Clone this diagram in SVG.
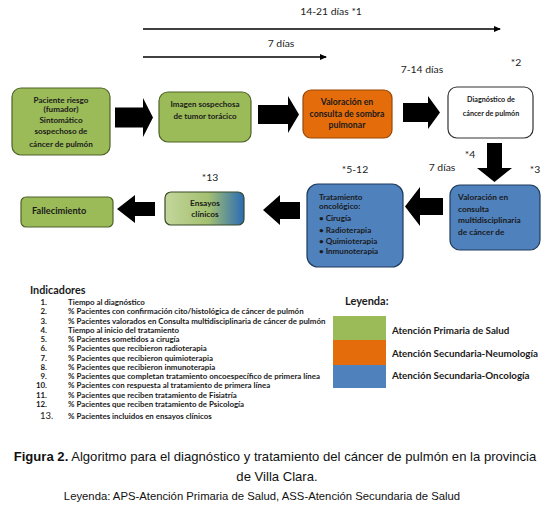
<svg xmlns="http://www.w3.org/2000/svg" width="554" height="511" viewBox="0 0 554 511">
<defs>
<style>
.bx{font-family:Lato,"Open Sans","Liberation Sans",sans-serif;font-weight:700;fill:#1a1a1a}
.lbl{font-family:Lato,"Open Sans","Liberation Sans",sans-serif;font-size:10.4px;fill:#222}
.ind{font-family:Lato,"Open Sans","Liberation Sans",sans-serif;font-weight:700;font-size:7.9px;fill:#1a1a1a}
.cap{font-family:"Liberation Sans",Arial,sans-serif;fill:#111}
.green{fill:#9BBB59;stroke:#4F6228;stroke-width:1.2}
.orange{fill:#E46C0A;stroke:#984807;stroke-width:1.2}
.blue{fill:#4F81BD;stroke:#1F3B5E;stroke-width:1.2}
.white{fill:#fff;stroke:#333;stroke-width:1.2}
.blk{fill:#000}
.thin{stroke:#000;stroke-width:1.6;fill:none}
</style>
<linearGradient id="gEns" x1="0" y1="0" x2="1" y2="0">
<stop offset="0" stop-color="#C3D69B"/>
<stop offset="0.55" stop-color="#A3C070"/>
<stop offset="1" stop-color="#2A6BB5"/>
</linearGradient>
<marker id="ah" markerWidth="8" markerHeight="8" refX="6" refY="3" orient="auto" markerUnits="userSpaceOnUse">
<path d="M0,0 L7,3 L0,6 Z" fill="#000"/>
</marker>
</defs>
<rect width="554" height="511" fill="#fff"/>

<g id="connectors">
<line class="thin" x1="143" y1="29" x2="500" y2="29" marker-end="url(#ah)"/>
<line class="thin" x1="143" y1="57" x2="326" y2="57" marker-end="url(#ah)"/>
<polygon class="blk" points="115,107.5 143,107.5 143,98 153,117.5 143,137 143,127.5 115,127.5"/>
<polygon class="blk" points="258,105 288,105 288,96 299,114.5 288,133 288,124 258,124"/>
<polygon class="blk" points="403,103 428,103 428,96 440,112.5 428,129 428,122 403,122"/>
<polygon class="blk" points="487,143 502,143 502,168 512,168 494.5,182 477,168 487,168"/>
<polygon class="blk" points="443,198 420,198 420,187 405,206.5 420,226 420,215 443,215"/>
<polygon class="blk" points="300,202 280,202 280,195 263,210 280,225 280,219 300,219"/>
<polygon class="blk" points="155,202 135,202 135,195 117,209 135,223 135,216 155,216"/>
<text class="lbl" x="331" y="15" text-anchor="middle">14-21 días *1</text>
<text class="lbl" x="281" y="47" text-anchor="middle">7 días</text>
<text class="lbl" x="422" y="73" text-anchor="middle">7-14 días</text>
<text class="lbl" x="516" y="66" text-anchor="middle">*2</text>
<text class="lbl" x="470" y="158" text-anchor="middle">*4</text>
<text class="lbl" x="442" y="171" text-anchor="middle">7 días</text>
<text class="lbl" x="535" y="173" text-anchor="middle">*3</text>
<text class="lbl" x="355" y="173" text-anchor="middle">*5-12</text>
<text class="lbl" x="210" y="181" text-anchor="middle">*13</text>
</g>

<g id="n1">
<rect class="green" x="12" y="88" width="98" height="67" rx="9"/>
<text class="bx" font-size="8.1" text-anchor="middle"><tspan x="61" y="103">Paciente riesgo</tspan><tspan x="61" y="112">(fumador)</tspan><tspan x="61" y="123">Sintomático</tspan><tspan x="61" y="134">sospechoso de</tspan><tspan x="61" y="147">cáncer de pulmón</tspan></text>
</g>

<g id="n2">
<rect class="green" x="159" y="92" width="92" height="50" rx="9"/>
<text class="bx" font-size="8" text-anchor="middle"><tspan x="205" y="107">Imagen sospechosa</tspan><tspan x="205" y="119">de tumor torácico</tspan></text>
</g>

<g id="n3">
<rect class="orange" x="303" y="90" width="89" height="48" rx="8"/>
<text class="bx" font-size="8.7" text-anchor="middle"><tspan x="347" y="105">Valoración en</tspan><tspan x="347" y="116.5">consulta de sombra</tspan><tspan x="347" y="128">pulmonar</tspan></text>
</g>

<g id="n4">
<rect class="white" x="448" y="87" width="85" height="51" rx="9"/>
<text class="bx" font-size="7.2" text-anchor="middle"><tspan x="491" y="102">Diagnóstico de</tspan><tspan x="491" y="116">cáncer de pulmón</tspan></text>
</g>

<g id="n5">
<rect class="blue" x="450" y="185" width="90" height="65" rx="10"/>
<text class="bx" font-size="8.3"><tspan x="458" y="200">Valoración en</tspan><tspan x="458" y="211.5">consulta</tspan><tspan x="458" y="223">multidisciplinaria</tspan><tspan x="458" y="235">de cáncer de</tspan></text>
</g>

<g id="n6">
<rect class="blue" x="307" y="184" width="96" height="83" rx="11"/>
<text class="bx" font-size="8.1"><tspan x="319" y="200">Tratamiento</tspan><tspan x="319" y="209">oncológico:</tspan><tspan x="319" y="221">• Cirugía</tspan><tspan x="319" y="233">• Radioterapia</tspan><tspan x="319" y="244">• Quimioterapia</tspan><tspan x="319" y="254">• Inmunoterapia</tspan></text>
</g>

<g id="n7">
<rect x="165" y="192" width="79" height="33" rx="6" fill="url(#gEns)" stroke="#3a4a2a" stroke-width="1.2"/>
<text class="bx" font-size="8.3" text-anchor="middle"><tspan x="205" y="206">Ensayos</tspan><tspan x="205" y="217">clínicos</tspan></text>
</g>

<g id="n8">
<rect class="green" x="21" y="197" width="92" height="30" rx="5"/>
<text class="bx" font-size="9.2" x="32" y="214">Fallecimiento</text>
</g>

<g id="indicadores">
<text class="bx" font-size="10.8" x="30" y="294">Indicadores</text>
<g class="ind">
<text x="47" y="305" text-anchor="end">1.</text><text x="68" y="305">Tiempo al diagnóstico</text>
<text x="47" y="314" text-anchor="end">2.</text><text x="68" y="314">% Pacientes con confirmación cito/histológica de cáncer de pulmón</text>
<text x="47" y="323.5" text-anchor="end">3.</text><text x="68" y="323.5">% Pacientes valorados en Consulta multidisciplinaria de cáncer de pulmón</text>
<text x="47" y="333" text-anchor="end">4.</text><text x="68" y="333">Tiempo al inicio del tratamiento</text>
<text x="47" y="342" text-anchor="end">5.</text><text x="68" y="342">% Pacientes sometidos a cirugía</text>
<text x="47" y="351" text-anchor="end">6.</text><text x="68" y="351">% Pacientes que recibieron radioterapia</text>
<text x="47" y="360.5" text-anchor="end">7.</text><text x="68" y="360.5">% Pacientes que recibieron quimioterapia</text>
<text x="47" y="370" text-anchor="end">8.</text><text x="68" y="370">% Pacientes que recibieron inmunoterapia</text>
<text x="47" y="379" text-anchor="end">9.</text><text x="68" y="379">% Pacientes que completan tratamiento oncoespecífico de primera línea</text>
<text x="47" y="388" text-anchor="end">10.</text><text x="68" y="388">% Pacientes con respuesta al tratamiento de primera línea</text>
<text x="47" y="397.5" text-anchor="end">11.</text><text x="68" y="397.5">% Pacientes que reciben tratamiento de Fisiatría</text>
<text x="47" y="406.5" text-anchor="end">12.</text><text x="68" y="406.5">% Pacientes que reciben tratamiento de Psicología</text>
<text x="40" y="419" font-size="9.5" font-weight="400">13.</text><text x="68" y="418.5">% Pacientes incluidos en ensayos clínicos</text>
</g>
</g>

<g id="leyenda">
<text class="bx" font-size="11" x="345" y="305">Leyenda:</text>
<rect x="333" y="316" width="53" height="24" fill="#9BBB59"/>
<rect x="333" y="340" width="53" height="25" fill="#E46C0A"/>
<rect x="333" y="365" width="53" height="23" fill="#4F81BD"/>
<text class="bx" font-size="9.8" x="392" y="333.5">Atención Primaria de Salud</text>
<text class="bx" font-size="9.8" x="392" y="356.5">Atención Secundaria-Neumología</text>
<text class="bx" font-size="9.8" x="392" y="378.5">Atención Secundaria-Oncología</text>
</g>

<g id="caption">
<text class="cap" font-size="13.1" x="275" y="461" text-anchor="middle"><tspan font-weight="700">Figura 2.</tspan> Algoritmo para el diagnóstico y tratamiento del cáncer de pulmón en la provincia</text>
<text class="cap" font-size="13.1" x="277" y="481" text-anchor="middle">de Villa Clara.</text>
<text class="cap" font-size="11.3" x="262" y="500" text-anchor="middle">Leyenda: APS-Atención Primaria de Salud, ASS-Atención Secundaria de Salud</text>
</g>
</svg>
